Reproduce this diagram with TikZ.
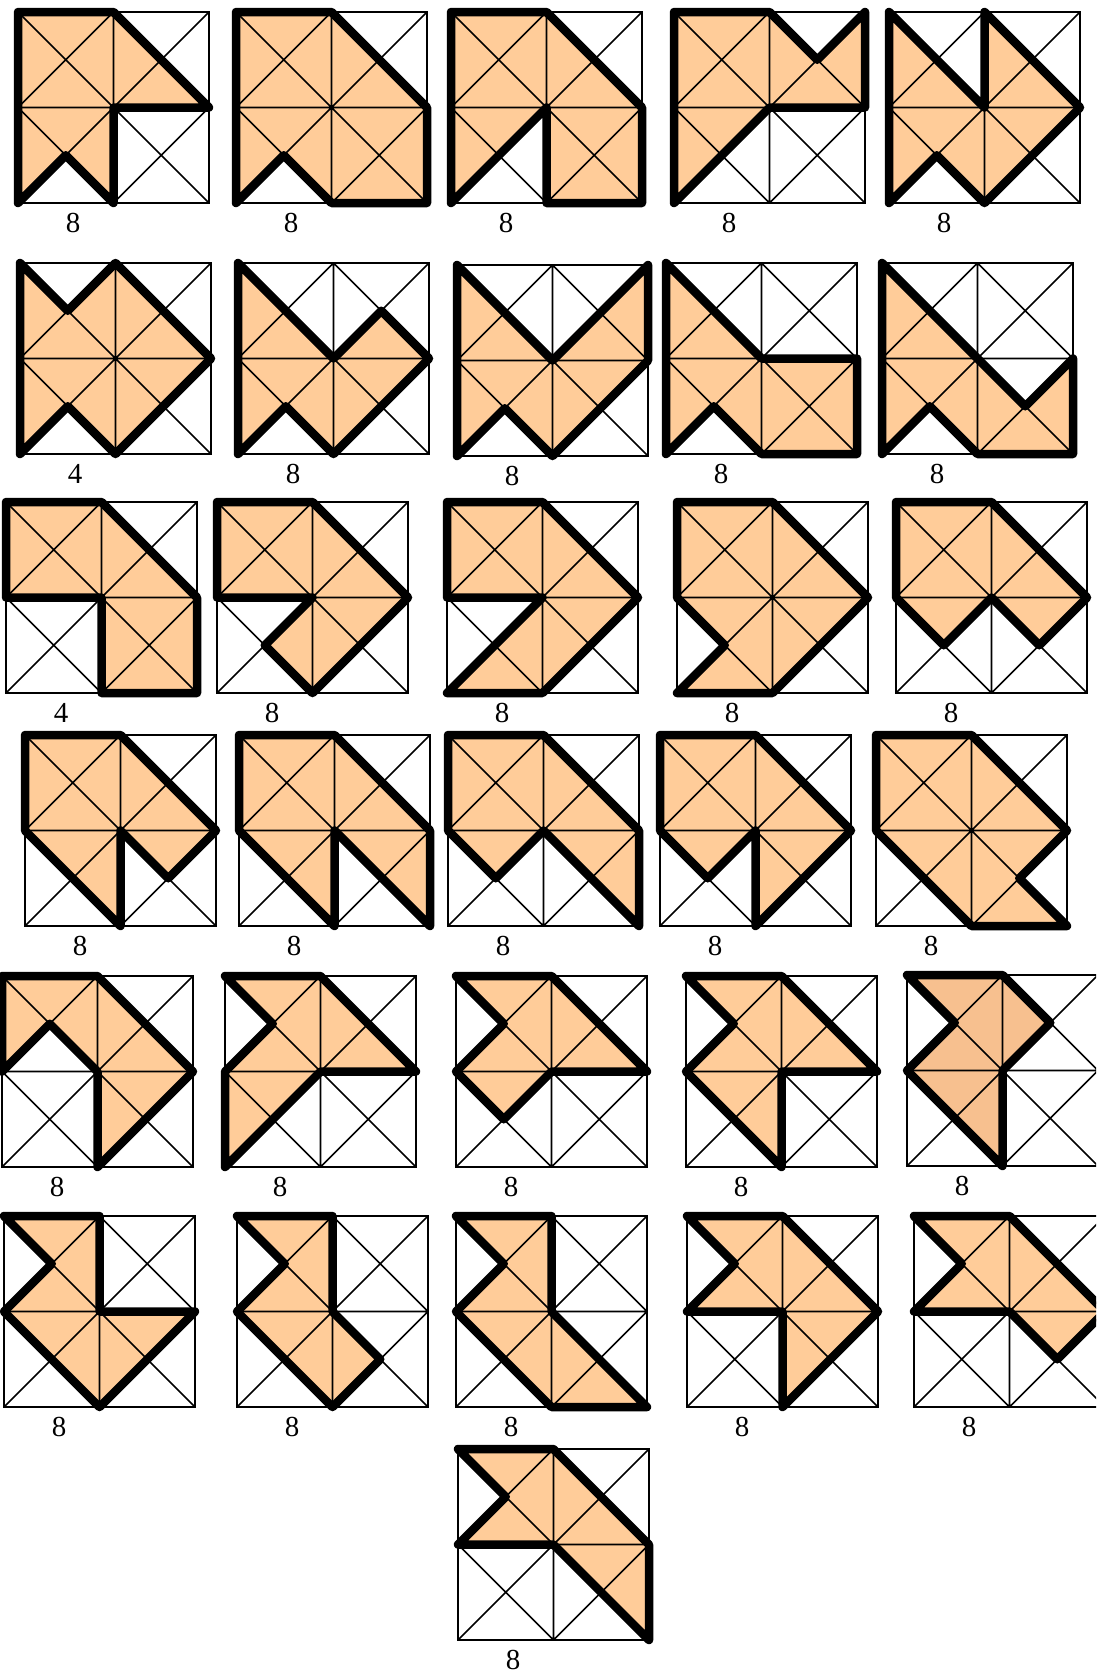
\documentclass[tikz,border=0pt]{standalone}
\usepackage{fontspec}
\setmainfont{Liberation Serif}
\definecolor{peach}{RGB}{255,204,153}
\definecolor{peachdark}{RGB}{247,192,143}
\tikzset{
  gridline/.style={draw=black, line width=1.6pt},
  outline/.style={draw=black, line width=8.5pt, line join=round, line cap=round},
  lbl/.style={font=\fontsize{29}{29}\selectfont, inner sep=0pt}
}
\newcommand\pnl[6]{%
  \begin{scope}[shift={(#1,#2)}, x=95.5pt, y=-95.5pt]
    \fill[#5] #4 -- cycle;
    \draw[gridline] (0,0) rectangle (2,2) (1,0) -- (1,2) (0,1) -- (2,1)
      (0,0) -- (2,2) (2,0) -- (0,2) (1,0) -- (2,1) (0,1) -- (1,2)
      (1,0) -- (0,1) (2,1) -- (1,2);
    \draw[outline] #4 -- cycle;
    \node[lbl] (#6) at (0.576,2.21) {#3};
  \end{scope}}
\begin{document}
\begin{tikzpicture}[x=1pt, y=-1pt]
\useasboundingbox (0,0) rectangle (1096,1674);
\clip (0,0) rectangle (1096,1674);
% row 1
\pnl{18}{12}{8}{(0,0)--(1,0)--(2,1)--(1,1)--(1,2)--(0.5,1.5)--(0,2)}{peach}{l1}
\pnl{236}{12}{8}{(0,0)--(1,0)--(2,1)--(2,2)--(1,2)--(0.5,1.5)--(0,2)}{peach}{l2}
\pnl{451}{12}{8}{(0,0)--(1,0)--(2,1)--(2,2)--(1,2)--(1,1)--(0,2)}{peach}{l3}
\pnl{674}{12}{8}{(0,0)--(1,0)--(1.5,0.5)--(2,0)--(2,1)--(1,1)--(0,2)}{peach}{l4}
\pnl{889}{12}{8}{(0,0)--(1,1)--(1,0)--(2,1)--(1,2)--(0.5,1.5)--(0,2)}{peach}{l5}
% row 2
\pnl{20}{263}{4}{(0,0)--(0.5,0.5)--(1,0)--(2,1)--(1,2)--(0.5,1.5)--(0,2)}{peach}{l6}
\pnl{238}{263}{8}{(0,0)--(1,1)--(1.5,0.5)--(2,1)--(1,2)--(0.5,1.5)--(0,2)}{peach}{l7}
\pnl{457}{265}{8}{(0,0)--(1,1)--(2,0)--(2,1)--(1,2)--(0.5,1.5)--(0,2)}{peach}{l8}
\pnl{666}{263}{8}{(0,0)--(1,1)--(2,1)--(2,2)--(1,2)--(0.5,1.5)--(0,2)}{peach}{l9}
\pnl{882}{263}{8}{(0,0)--(1,1)--(1.5,1.5)--(2,1)--(2,2)--(1,2)--(0.5,1.5)--(0,2)}{peach}{l10}
% row 3
\pnl{6}{502}{4}{(0,0)--(1,0)--(2,1)--(2,2)--(1,2)--(1,1)--(0,1)}{peach}{l11}
\pnl{217}{502}{8}{(0,0)--(1,0)--(2,1)--(1,2)--(0.5,1.5)--(1,1)--(0,1)}{peach}{l12}
\pnl{447}{502}{8}{(0,0)--(1,0)--(2,1)--(1,2)--(0,2)--(1,1)--(0,1)}{peach}{l13}
\pnl{677}{502}{8}{(0,0)--(1,0)--(2,1)--(1,2)--(0,2)--(0.5,1.5)--(0,1)}{peach}{l14}
\pnl{896}{502}{8}{(0,0)--(1,0)--(2,1)--(1.5,1.5)--(1,1)--(0.5,1.5)--(0,1)}{peach}{l15}
% row 4
\pnl{25}{735}{8}{(0,0)--(1,0)--(2,1)--(1.5,1.5)--(1,1)--(1,2)--(0,1)}{peach}{l16}
\pnl{239}{735}{8}{(0,0)--(1,0)--(2,1)--(2,2)--(1,1)--(1,2)--(0,1)}{peach}{l17}
\pnl{448}{735}{8}{(0,0)--(1,0)--(2,1)--(2,2)--(1,1)--(0.5,1.5)--(0,1)}{peach}{l18}
\pnl{660}{735}{8}{(0,0)--(1,0)--(2,1)--(1,2)--(1,1)--(0.5,1.5)--(0,1)}{peach}{l19}
\pnl{876}{735}{8}{(0,0)--(1,0)--(2,1)--(1.5,1.5)--(2,2)--(1,2)--(0,1)}{peach}{l20}
% row 5
\pnl{2}{976}{8}{(0,0)--(1,0)--(2,1)--(1,2)--(1,1)--(0.5,0.5)--(0,1)}{peach}{l21}
\pnl{225}{976}{8}{(0,0)--(1,0)--(2,1)--(1,1)--(0,2)--(0,1)--(0.5,0.5)}{peach}{l22}
\pnl{456}{976}{8}{(0,0)--(1,0)--(2,1)--(1,1)--(0.5,1.5)--(0,1)--(0.5,0.5)}{peach}{l23}
\pnl{686}{976}{8}{(0,0)--(1,0)--(2,1)--(1,1)--(1,2)--(0,1)--(0.5,0.5)}{peach}{l24}
\pnl{907}{975}{8}{(0,0)--(1,0)--(1.5,0.5)--(1,1)--(1,2)--(0,1)--(0.5,0.5)}{peachdark}{l25}
% row 6
\pnl{4}{1216}{8}{(0,0)--(1,0)--(1,1)--(2,1)--(1,2)--(0,1)--(0.5,0.5)}{peach}{l26}
\pnl{237}{1216}{8}{(0,0)--(1,0)--(1,1)--(1.5,1.5)--(1,2)--(0,1)--(0.5,0.5)}{peach}{l27}
\pnl{456}{1216}{8}{(0,0)--(1,0)--(1,1)--(2,2)--(1,2)--(0,1)--(0.5,0.5)}{peach}{l28}
\pnl{687}{1216}{8}{(0,0)--(1,0)--(2,1)--(1,2)--(1,1)--(0,1)--(0.5,0.5)}{peach}{l29}
\pnl{914}{1216}{8}{(0,0)--(1,0)--(2,1)--(1.5,1.5)--(1,1)--(0,1)--(0.5,0.5)}{peach}{l30}
% row 7
\pnl{458}{1449}{8}{(0,0)--(1,0)--(2,1)--(2,2)--(1,1)--(0,1)--(0.5,0.5)}{peach}{l31}
\end{tikzpicture}
\end{document}
